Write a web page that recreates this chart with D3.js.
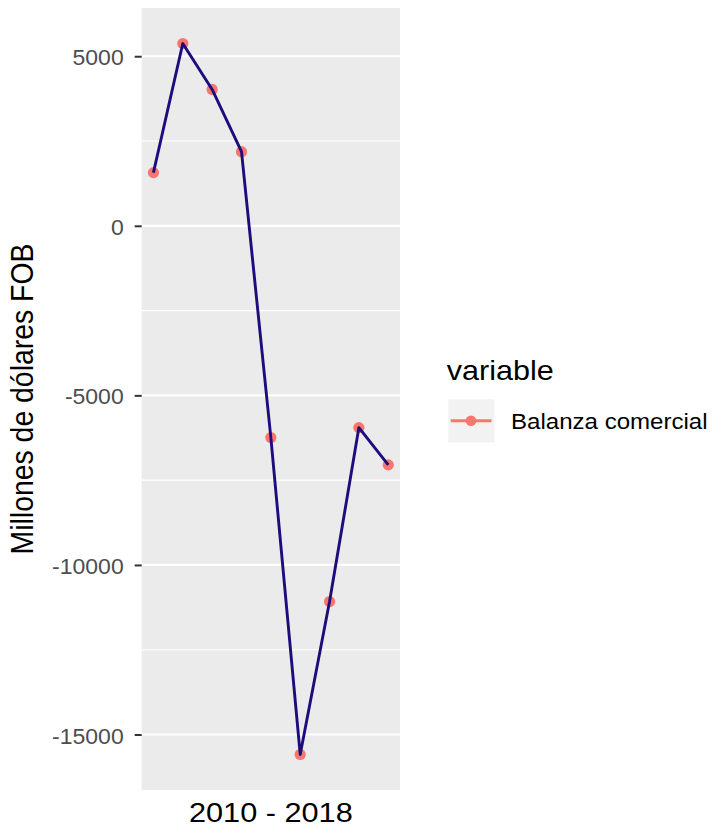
<!DOCTYPE html>
<html>
<head>
<meta charset="utf-8">
<script src="https://cdn.jsdelivr.net/npm/d3@7"></script>
<style>
  html, body { margin: 0; padding: 0; background: #ffffff; }
  svg { display: block; font-family: "Liberation Sans", Arial, Helvetica, sans-serif; }
</style>
</head>
<body>
<svg id="chart" width="716" height="827"></svg>
<script>
// ---- data ----
const years = [2010, 2011, 2012, 2013, 2014, 2015, 2016, 2017, 2018];
const balanza = [1568, 5374, 4021, 2185, -6244, -15588, -11079, -5950, -7050];
const yMajorTicks = [5000, 0, -5000, -10000, -15000];
const yMinorTicks = [2500, -2500, -7500, -12500];
const seriesName = "Balanza comercial";
const legendTitle = "variable";
const xTitle = "2010 - 2018";
const yTitle = "Millones de dólares FOB";

// ---- layout ----
const panel = { left: 141.7, right: 400, top: 8, bottom: 790 };
const SX = 1.08; // horizontal stretch of the reference raster

const svg = d3.select("#chart");

const data = years.map((y, i) => ({ year: y, value: balanza[i] }));

const yExt = d3.extent(balanza);
const yPad = (yExt[1] - yExt[0]) * 0.05;
const y = d3.scaleLinear()
  .domain([yExt[0] - yPad, yExt[1] + yPad])
  .range([panel.bottom, panel.top]);

const xExt = d3.extent(years);
const xPad = (xExt[1] - xExt[0]) * 0.05;
const x = d3.scaleLinear()
  .domain([xExt[0] - xPad, xExt[1] + xPad])
  .range([panel.left, panel.right]);

// panel background
svg.append("rect")
  .attr("x", panel.left).attr("y", panel.top)
  .attr("width", panel.right - panel.left)
  .attr("height", panel.bottom - panel.top)
  .attr("fill", "#ebebeb");

// minor gridlines
svg.append("g").selectAll("line").data(yMinorTicks).join("line")
  .attr("x1", panel.left).attr("x2", panel.right)
  .attr("y1", d => y(d)).attr("y2", d => y(d))
  .attr("stroke", "#ffffff").attr("stroke-width", 1.1);

// major gridlines
svg.append("g").selectAll("line").data(yMajorTicks).join("line")
  .attr("x1", panel.left).attr("x2", panel.right)
  .attr("y1", d => y(d)).attr("y2", d => y(d))
  .attr("stroke", "#ffffff").attr("stroke-width", 2.2);

// y axis (ticks + labels)
const yAxis = d3.axisLeft(y).tickValues(yMajorTicks).tickSize(7).tickPadding(11)
  .tickFormat(d => String(d));
const gy = svg.append("g").attr("transform", `translate(${panel.left},0)`).call(yAxis);
gy.select(".domain").remove();
gy.selectAll(".tick line").attr("stroke", "#333333").attr("stroke-width", 2);
gy.selectAll(".tick text")
  .attr("fill", "#4d4d4d")
  .attr("font-size", 21.3)
  .attr("dy", "0.4em")
  .attr("x", null)
  .attr("transform", `translate(-18,0) scale(${SX},1)`)
  .style("font-family", "'Liberation Sans', Arial, sans-serif");

// points (under the line)
svg.append("g").selectAll("circle").data(data).join("circle")
  .attr("cx", d => x(d.year))
  .attr("cy", d => y(d.value))
  .attr("r", 5.6)
  .attr("fill", "#F8766D");

// line
const line = d3.line().x(d => x(d.year)).y(d => y(d.value));
svg.append("path")
  .datum(data)
  .attr("d", line)
  .attr("fill", "none")
  .attr("stroke", "#1c0c7c")
  .attr("stroke-width", 2.9)
  .attr("stroke-linejoin", "round");

// x title
svg.append("text")
  .attr("transform", `translate(${(panel.left + panel.right) / 2},822) scale(${SX},1)`)
  .attr("text-anchor", "middle")
  .attr("font-size", 28.4)
  .attr("fill", "#000")
  .text(xTitle);

// y title
svg.append("text")
  .attr("transform", `translate(33,${(panel.top + panel.bottom) / 2}) rotate(-90) scale(1,${SX})`)
  .attr("text-anchor", "middle")
  .attr("font-size", 28.4)
  .attr("fill", "#000")
  .text(yTitle);

// legend
const lg = svg.append("g");
lg.append("text")
  .attr("transform", `translate(446.7,380) scale(${SX},1)`)
  .attr("font-size", 28.3)
  .attr("fill", "#000")
  .text(legendTitle);
lg.append("rect")
  .attr("x", 448.3).attr("y", 399.3).attr("width", 46).attr("height", 43)
  .attr("fill", "#f2f2f2");
lg.append("line")
  .attr("x1", 450.7).attr("x2", 491.5).attr("y1", 420.8).attr("y2", 420.8)
  .attr("stroke", "#F8766D").attr("stroke-width", 2.9);
lg.append("circle")
  .attr("cx", 471).attr("cy", 420.8).attr("r", 5.3)
  .attr("fill", "#F8766D");
lg.append("text")
  .attr("transform", `translate(511,429) scale(${SX},1)`)
  .attr("font-size", 22.3)
  .attr("fill", "#000")
  .text(seriesName);
</script>
</body>
</html>
